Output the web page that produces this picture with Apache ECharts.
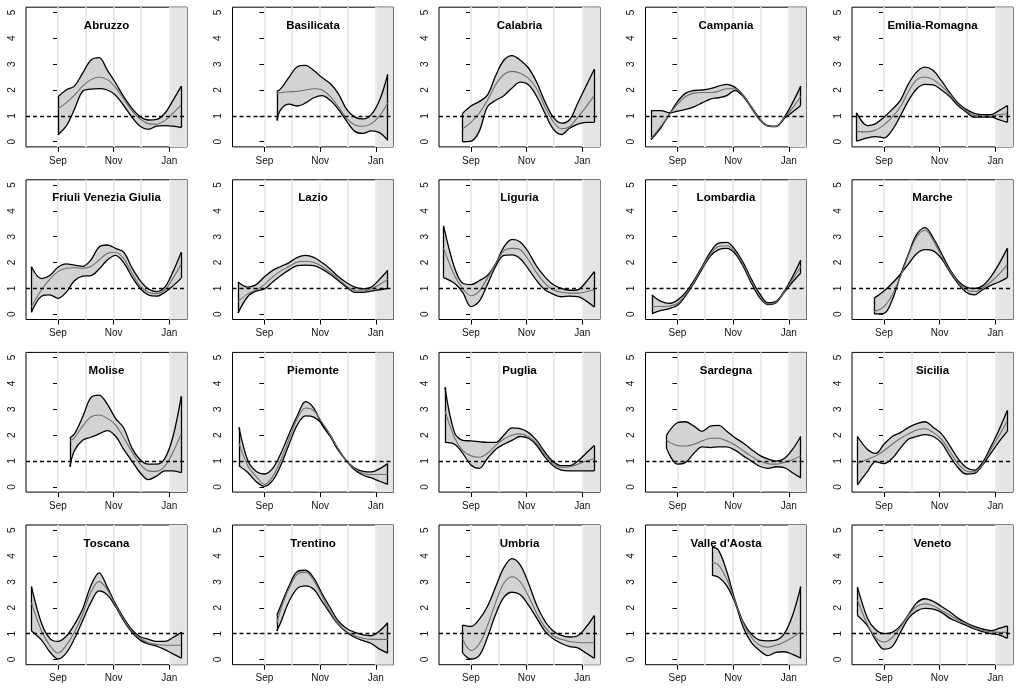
<!DOCTYPE html>
<html>
<head>
<meta charset="utf-8">
<script src="https://cdn.jsdelivr.net/npm/echarts@6/dist/echarts.min.js"></script>
<style>
  html, body { margin: 0; padding: 0; background: #fff; }
  #chart { width: 1021px; height: 692px; }
</style>
</head>
<body>
<div id="chart"></div>
<script>
// days counted from 1 September (Oct 1 = 30, Nov 1 = 61, Dec 1 = 91, Jan 1 = 122)
const DAYS = [-18, -9, 0, 9, 18, 27, 36, 45, 54, 63, 72, 81, 90, 99, 108, 117, 126, 135];
const MONTH_LINES = [0, 30, 61, 91, 122];
const MONTH_TICKS = [0, 61, 122];
const MONTH_LABELS = ["Sep", "Nov", "Jan"];
const Y_TICKS = [0, 1, 2, 3, 4, 5];
const SHADE_FROM = 122;
const THRESHOLD = 1;

const REGIONS = [
  "Abruzzo", "Basilicata", "Calabria", "Campania", "Emilia-Romagna",
  "Friuli Venezia Giulia", "Lazio", "Liguria", "Lombardia", "Marche",
  "Molise", "Piemonte", "Puglia", "Sardegna", "Sicilia",
  "Toscana", "Trentino", "Umbria", "Valle d'Aosta", "Veneto"
];
// first day of each band; the following values sit on DAYS
const START_DAY = [0, 13.5, -9, -29, -30, -29, -29, -30, -28, -11, 13, -28, -28.5, -12, -29, -29, 13.5, -9, 38, -29];

// band edges (hi / lo) and central estimate (mid)
const ABRUZZO_HI = [1.74, 2.0, 2.15, 2.65, 3.15, 3.25, 2.77, 2.28, 1.74, 1.29, 0.97, 0.84, 0.86, 1.1, 1.6, 2.15];
const ABRUZZO_MID = [1.27, 1.5, 1.8, 2.15, 2.4, 2.5, 2.4, 2.1, 1.65, 1.2, 0.88, 0.7, 0.68, 0.82, 1.1, 1.42];
const ABRUZZO_LO = [0.27, 0.6, 1.25, 1.95, 2.03, 2.05, 2.0, 1.8, 1.4, 0.95, 0.6, 0.48, 0.6, 0.62, 0.6, 0.55];

const BASILICATA_HI = [1.95, 2.05, 2.5, 2.9, 2.95, 2.75, 2.48, 2.25, 1.85, 1.25, 0.95, 0.88, 1.05, 1.6, 2.6];
const BASILICATA_MID = [1.88, 1.9, 1.93, 1.95, 2.0, 2.05, 2.0, 1.75, 1.35, 0.9, 0.65, 0.6, 0.7, 1.0, 1.5];
const BASILICATA_LO = [0.82, 1.25, 1.45, 1.38, 1.5, 1.7, 1.78, 1.6, 1.25, 0.8, 0.4, 0.32, 0.42, 0.35, 0.05];

const CALABRIA_HI = [1.1, 1.38, 1.55, 1.8, 2.55, 3.15, 3.33, 3.15, 2.85, 2.3, 1.55, 0.95, 0.72, 0.85, 1.5, 2.15, 2.8];
const CALABRIA_MID = [0.5, 0.75, 1.1, 1.6, 2.2, 2.6, 2.72, 2.65, 2.45, 2.05, 1.35, 0.78, 0.5, 0.58, 0.95, 1.35, 1.78];
const CALABRIA_LO = [0.0, 0.02, 0.4, 1.35, 1.6, 1.78, 2.08, 2.3, 2.2, 1.75, 1.1, 0.5, 0.28, 0.52, 0.68, 0.75, 0.75];

const CAMPANIA_HI = [1.2, 1.2, 1.12, 1.18, 1.25, 1.35, 1.5, 1.65, 1.7, 1.78, 1.98, 1.75, 1.3, 0.85, 0.6, 0.58, 0.9, 1.15, 1.4];
const CAMPANIA_MID = [0.12, 0.6, 1.05, 1.45, 1.75, 1.88, 1.9, 1.9, 1.95, 2.05, 2.05, 1.78, 1.32, 0.88, 0.61, 0.59, 0.92, 1.3, 1.75];
const CAMPANIA_LO = [0.08, 0.55, 1.05, 1.55, 1.88, 1.98, 2.0, 2.05, 2.15, 2.22, 2.1, 1.8, 1.35, 0.9, 0.62, 0.6, 0.95, 1.5, 2.15];

const EMILIA_HI = [1.12, 0.62, 0.7, 0.95, 1.25, 1.6, 2.25, 2.7, 2.88, 2.75, 2.35, 1.9, 1.5, 1.25, 1.1, 1.05, 1.05, 1.2, 1.4];
const EMILIA_MID = [0.4, 0.38, 0.45, 0.65, 0.95, 1.35, 1.95, 2.4, 2.5, 2.4, 2.15, 1.85, 1.45, 1.2, 1.02, 1.0, 1.0, 1.05, 1.08];
const EMILIA_LO = [0.02, 0.15, 0.2, 0.15, 0.45, 1.0, 1.6, 2.05, 2.22, 2.2, 2.0, 1.75, 1.4, 1.15, 0.95, 0.95, 0.95, 0.85, 0.75];

const FRIULI_HI = [1.84, 1.38, 1.5, 1.82, 1.95, 1.9, 1.85, 2.1, 2.6, 2.68, 2.55, 2.4, 1.8, 1.3, 0.98, 0.88, 1.05, 1.65, 2.4];
const FRIULI_MID = [0.3, 0.95, 1.35, 1.65, 1.78, 1.8, 1.78, 1.85, 2.1, 2.35, 2.4, 2.15, 1.6, 1.1, 0.85, 0.8, 0.95, 1.4, 1.95];
const FRIULI_LO = [0.08, 0.7, 0.75, 0.62, 0.85, 1.3, 1.48, 1.5, 1.75, 2.1, 2.28, 2.0, 1.45, 1.0, 0.75, 0.7, 0.85, 1.1, 1.4];

const LAZIO_HI = [1.25, 1.05, 1.15, 1.45, 1.7, 1.85, 2.0, 2.2, 2.28, 2.2, 2.0, 1.75, 1.45, 1.22, 1.05, 0.98, 1.05, 1.35, 1.7];
const LAZIO_MID = [0.5, 0.8, 0.95, 1.15, 1.45, 1.68, 1.85, 2.02, 2.05, 2.0, 1.85, 1.62, 1.35, 1.1, 0.92, 0.9, 0.98, 1.15, 1.35];
const LAZIO_LO = [0.05, 0.7, 0.9, 0.98, 1.25, 1.5, 1.72, 1.88, 1.9, 1.88, 1.75, 1.55, 1.3, 1.05, 0.85, 0.85, 0.9, 0.95, 1.0];

const LIGURIA_HI = [3.42, 1.8, 1.2, 1.15, 1.3, 1.5, 1.95, 2.6, 2.9, 2.8, 2.4, 1.85, 1.45, 1.15, 1.0, 0.93, 0.95, 1.25, 1.65];
const LIGURIA_MID = [2.55, 1.5, 1.0, 0.72, 0.9, 1.4, 1.95, 2.45, 2.55, 2.5, 2.1, 1.6, 1.2, 0.95, 0.85, 0.82, 0.82, 0.87, 0.95];
const LIGURIA_LO = [1.42, 1.2, 0.85, 0.3, 0.5, 1.15, 1.85, 2.28, 2.3, 2.15, 1.75, 1.3, 0.95, 0.78, 0.68, 0.7, 0.68, 0.52, 0.28];

const LOMBARDIA_HI = [0.75, 0.5, 0.42, 0.55, 0.85, 1.3, 1.85, 2.4, 2.75, 2.78, 2.5, 2.0, 1.35, 0.8, 0.45, 0.5, 0.9, 1.45, 2.1];
const LOMBARDIA_MID = [0.3, 0.3, 0.32, 0.42, 0.78, 1.25, 1.8, 2.32, 2.62, 2.65, 2.42, 1.92, 1.28, 0.72, 0.4, 0.47, 0.87, 1.35, 1.85];
const LOMBARDIA_LO = [0.03, 0.15, 0.22, 0.35, 0.72, 1.2, 1.75, 2.25, 2.5, 2.55, 2.35, 1.85, 1.2, 0.65, 0.38, 0.45, 0.85, 1.25, 1.6];

const MARCHE_HI = [0.02, 0.04, 0.55, 1.5, 2.35, 3.1, 3.35, 2.95, 2.35, 1.75, 1.3, 1.05, 1.0, 1.1, 1.45, 1.95, 2.55];
const MARCHE_MID = [0.1, 0.3, 0.75, 1.45, 2.3, 3.0, 3.25, 2.85, 2.25, 1.7, 1.25, 0.95, 0.88, 1.02, 1.25, 1.55, 1.92];
const MARCHE_LO = [0.62, 0.9, 1.2, 1.55, 1.95, 2.35, 2.5, 2.45, 2.15, 1.65, 1.2, 0.85, 0.75, 0.95, 1.12, 1.25, 1.42];

const MOLISE_HI = [1.9, 2.05, 2.7, 3.45, 3.55, 3.2, 2.65, 2.28, 1.5, 1.05, 0.88, 0.88, 1.1, 1.95, 3.5];
const MOLISE_MID = [1.78, 1.9, 2.35, 2.7, 2.78, 2.65, 2.4, 1.9, 1.35, 0.88, 0.62, 0.6, 0.8, 1.35, 2.05];
const MOLISE_LO = [0.78, 1.4, 1.8, 1.92, 2.05, 2.18, 1.97, 1.45, 1.0, 0.55, 0.28, 0.42, 0.62, 0.62, 0.55];

const PIEMONTE_HI = [2.3, 1.0, 0.6, 0.5, 0.72, 1.3, 2.05, 2.75, 3.3, 3.05, 2.4, 1.95, 1.4, 1.0, 0.72, 0.6, 0.58, 0.7, 0.9];
const PIEMONTE_MID = [1.7, 0.8, 0.4, 0.1, 0.4, 1.05, 1.85, 2.65, 3.05, 2.95, 2.5, 2.0, 1.45, 1.0, 0.7, 0.52, 0.48, 0.48, 0.48];
const PIEMONTE_LO = [0.82, 0.55, 0.2, 0.02, 0.25, 0.85, 1.65, 2.4, 2.75, 2.7, 2.45, 2.0, 1.45, 1.0, 0.65, 0.45, 0.35, 0.22, 0.1];

const PUGLIA_HI = [3.85, 2.1, 1.8, 1.78, 1.75, 1.72, 1.72, 2.0, 2.28, 2.25, 2.1, 1.8, 1.35, 0.98, 0.82, 0.82, 1.0, 1.3, 1.6];
const PUGLIA_MID = [2.95, 1.9, 1.4, 1.2, 1.15, 1.3, 1.6, 1.85, 2.0, 2.05, 1.95, 1.68, 1.25, 0.92, 0.76, 0.78, 0.88, 1.0, 1.1];
const PUGLIA_LO = [1.72, 1.65, 1.3, 0.85, 0.72, 1.1, 1.45, 1.65, 1.8, 1.95, 1.88, 1.6, 1.15, 0.82, 0.65, 0.62, 0.62, 0.62, 0.62];

const SARDEGNA_HI = [2.0, 2.48, 2.52, 2.35, 2.15, 2.35, 2.38, 2.15, 1.9, 1.7, 1.45, 1.22, 1.08, 1.0, 1.1, 1.45, 1.95];
const SARDEGNA_MID = [1.8, 1.6, 1.58, 1.65, 1.78, 1.88, 1.88, 1.78, 1.62, 1.4, 1.18, 1.0, 0.9, 0.88, 0.95, 1.05, 1.2];
const SARDEGNA_LO = [1.5, 0.88, 0.95, 1.3, 1.55, 1.52, 1.55, 1.55, 1.42, 1.2, 1.0, 0.8, 0.72, 0.78, 0.75, 0.55, 0.35];

const SICILIA_HI = [1.95, 1.45, 1.3, 1.65, 1.95, 2.1, 2.3, 2.45, 2.52, 2.3, 2.05, 1.6, 1.1, 0.75, 0.65, 0.95, 1.55, 2.2, 2.95];
const SICILIA_MID = [0.9, 1.07, 1.2, 1.4, 1.65, 1.88, 2.05, 2.2, 2.25, 2.1, 1.85, 1.38, 0.9, 0.62, 0.58, 0.88, 1.45, 1.98, 2.55];
const SICILIA_LO = [0.08, 0.6, 0.98, 0.9, 1.1, 1.5, 1.85, 1.95, 2.02, 1.95, 1.7, 1.2, 0.75, 0.5, 0.52, 0.85, 1.3, 1.75, 2.15];

const TOSCANA_HI = [2.82, 1.4, 0.82, 0.7, 0.9, 1.35, 1.95, 2.85, 3.35, 2.8, 2.15, 1.6, 1.15, 0.88, 0.78, 0.7, 0.7, 0.85, 1.05];
const TOSCANA_MID = [2.2, 1.1, 0.55, 0.25, 0.55, 1.05, 1.75, 2.6, 3.02, 2.7, 2.1, 1.55, 1.1, 0.82, 0.65, 0.58, 0.55, 0.55, 0.55];
const TOSCANA_LO = [1.1, 0.75, 0.3, 0.02, 0.25, 0.8, 1.5, 2.2, 2.65, 2.5, 2.05, 1.5, 1.05, 0.75, 0.6, 0.52, 0.38, 0.22, 0.05];

const TRENTINO_HI = [1.7, 2.1, 2.85, 3.4, 3.45, 3.15, 2.55, 2.0, 1.48, 1.2, 1.05, 0.95, 0.92, 1.1, 1.42];
const TRENTINO_MID = [1.4, 1.95, 2.75, 3.3, 3.38, 3.05, 2.45, 1.85, 1.38, 1.08, 0.92, 0.82, 0.78, 0.78, 0.78];
const TRENTINO_LO = [1.1, 1.45, 2.25, 2.75, 2.85, 2.72, 2.25, 1.78, 1.35, 1.05, 0.85, 0.73, 0.62, 0.4, 0.25];

const UMBRIA_HI = [1.33, 1.28, 1.55, 2.05, 2.8, 3.55, 3.9, 3.65, 2.95, 2.1, 1.48, 1.1, 0.93, 0.87, 0.92, 1.25, 1.7];
const UMBRIA_MID = [0.78, 0.35, 0.6, 1.3, 2.2, 2.95, 3.2, 3.0, 2.45, 1.78, 1.25, 0.92, 0.78, 0.7, 0.66, 0.65, 0.65];
const UMBRIA_LO = [0.25, 0.02, 0.15, 0.85, 1.75, 2.4, 2.6, 2.5, 2.1, 1.6, 1.1, 0.8, 0.62, 0.5, 0.45, 0.25, 0.05];

const VALLE_HI = [4.35, 4.22, 3.4, 2.3, 1.45, 0.98, 0.75, 0.72, 0.75, 1.0, 1.7, 2.82];
const VALLE_MID = [3.75, 3.65, 3.1, 2.25, 1.4, 0.85, 0.55, 0.48, 0.55, 0.68, 0.85, 1.08];
const VALLE_LO = [3.25, 3.18, 2.85, 2.2, 1.25, 0.65, 0.35, 0.15, 0.28, 0.3, 0.2, 0.05];

const VENETO_HI = [2.8, 1.6, 1.15, 1.0, 1.05, 1.3, 1.75, 2.2, 2.35, 2.25, 2.05, 1.85, 1.6, 1.42, 1.28, 1.18, 1.12, 1.2, 1.3];
const VENETO_MID = [2.3, 1.35, 0.85, 0.68, 0.85, 1.25, 1.72, 2.05, 2.15, 2.08, 1.9, 1.72, 1.52, 1.38, 1.22, 1.12, 1.08, 1.05, 1.05];
const VENETO_LO = [1.7, 1.3, 0.75, 0.4, 0.5, 1.05, 1.6, 1.88, 1.98, 1.95, 1.82, 1.6, 1.45, 1.32, 1.18, 1.08, 1.0, 0.95, 0.82];

const HI = [ABRUZZO_HI, BASILICATA_HI, CALABRIA_HI, CAMPANIA_HI, EMILIA_HI, FRIULI_HI, LAZIO_HI, LIGURIA_HI, LOMBARDIA_HI, MARCHE_HI,
  MOLISE_HI, PIEMONTE_HI, PUGLIA_HI, SARDEGNA_HI, SICILIA_HI, TOSCANA_HI, TRENTINO_HI, UMBRIA_HI, VALLE_HI, VENETO_HI];
const MID = [ABRUZZO_MID, BASILICATA_MID, CALABRIA_MID, CAMPANIA_MID, EMILIA_MID, FRIULI_MID, LAZIO_MID, LIGURIA_MID, LOMBARDIA_MID, MARCHE_MID,
  MOLISE_MID, PIEMONTE_MID, PUGLIA_MID, SARDEGNA_MID, SICILIA_MID, TOSCANA_MID, TRENTINO_MID, UMBRIA_MID, VALLE_MID, VENETO_MID];
const LO = [ABRUZZO_LO, BASILICATA_LO, CALABRIA_LO, CAMPANIA_LO, EMILIA_LO, FRIULI_LO, LAZIO_LO, LIGURIA_LO, LOMBARDIA_LO, MARCHE_LO,
  MOLISE_LO, PIEMONTE_LO, PUGLIA_LO, SARDEGNA_LO, SICILIA_LO, TOSCANA_LO, TRENTINO_LO, UMBRIA_LO, VALLE_LO, VENETO_LO];

// series sit on a hidden time axis (so the band stacks on y);
// a value axis in days on the same grid carries the month ticks
const DAY_MS = 86400000;
const SEP_1 = Date.UTC(2020, 8, 1);
const t = d => SEP_1 + d * DAY_MS;

const D_MIN = -35, D_MAX = 141.3;
const BOX_W = 161, BOX_H = 139.7;
const FONT = "'Liberation Sans', Arial, Helvetica, sans-serif";

function xsFor(start, n) {
  return [start].concat(DAYS.filter(d => d > start + 3)).slice(0, n);
}

const grids = [], xAxes = [], yAxes = [], series = [], titles = [];

REGIONS.forEach((name, i) => {
  const col = i % 5, row = Math.floor(i / 5);
  const left = 26 + 206.5 * col;
  const top = 7.2 + 172.6 * row;
  const xi = 2 * i;
  grids.push({
    left: left, top: top, width: BOX_W, height: BOX_H,
    show: true, borderColor: "#000", borderWidth: 1, backgroundColor: "transparent"
  });
  xAxes.push({
    gridIndex: i, type: "time", min: t(D_MIN), max: t(D_MAX), show: false, position: "bottom"
  });
  xAxes.push({
    gridIndex: i, type: "value", min: D_MIN, max: D_MAX, position: "bottom",
    axisLine: { show: false }, splitLine: { show: false },
    axisTick: { show: true, customValues: MONTH_TICKS, length: 5, lineStyle: { color: "#000" } },
    axisLabel: {
      customValues: MONTH_TICKS, margin: 9, fontSize: 10, color: "#111", fontFamily: FONT,
      formatter: v => MONTH_LABELS[MONTH_TICKS.indexOf(v)] || ""
    }
  });
  yAxes.push({
    gridIndex: i, type: "value", min: -0.2, max: 5.2,
    axisLine: { show: false }, splitLine: { show: false },
    axisTick: { show: true, customValues: Y_TICKS, length: 5, lineStyle: { color: "#000" } },
    axisLabel: { customValues: Y_TICKS, rotate: 90, margin: 9, fontSize: 10, color: "#111", fontFamily: FONT }
  });

  const hi = HI[i], mid = MID[i], lo = LO[i];
  const xs = xsFor(START_DAY[i], lo.length).map(t);
  const n = xs.length;
  const loData = xs.map((x, k) => [x, lo[k]]);
  const diffData = xs.map((x, k) => [x, +(hi[k] - lo[k]).toFixed(3)]);
  const midData = xs.map((x, k) => [x, mid[k]]);

  // background: month lines and the shaded last weeks (kept under the band)
  series.push({
    type: "line", xAxisIndex: xi, yAxisIndex: i, data: loData, silent: true, z: 1,
    symbol: "none", lineStyle: { opacity: 0 },
    markArea: {
      silent: true, z: 0, itemStyle: { color: "#e5e5e5" },
      data: [[{ xAxis: t(SHADE_FROM) }, { xAxis: t(D_MAX) }]]
    },
    markLine: {
      silent: true, z: 1, symbol: ["none", "none"], label: { show: false },
      lineStyle: { color: "#ebebeb", width: 2, type: "solid" },
      data: MONTH_LINES.map(v => ({ xAxis: t(v) }))
    }
  });
  // lower edge of the band
  series.push({
    type: "line", xAxisIndex: xi, yAxisIndex: i, data: loData, stack: "band" + i, stackStrategy: "all",
    smooth: 0.35, symbol: "none", silent: true, z: 3,
    lineStyle: { color: "#000", width: 1.3 },
    markLine: {
      silent: true, z: 3, symbol: ["none", "none"], label: { show: false },
      lineStyle: { color: "#000", width: 1.3, type: "solid" },
      data: [
        [{ coord: [xs[0], lo[0]] }, { coord: [xs[0], hi[0]] }],
        [{ coord: [xs[n - 1], lo[n - 1]] }, { coord: [xs[n - 1], hi[n - 1]] }]
      ]
    }
  });
  // filled band up to the other edge
  series.push({
    type: "line", xAxisIndex: xi, yAxisIndex: i, data: diffData, stack: "band" + i, stackStrategy: "all",
    smooth: 0.35, symbol: "none", silent: true, z: 2,
    lineStyle: { color: "#000", width: 1.3 },
    areaStyle: { color: "#d3d3d3", opacity: 1 }
  });
  // central estimate + threshold
  series.push({
    type: "line", xAxisIndex: xi, yAxisIndex: i, data: midData,
    smooth: 0.35, symbol: "none", silent: true, z: 4,
    lineStyle: { color: "#6e6e6e", width: 1.1 },
    markLine: {
      silent: true, z: 5, symbol: ["none", "none"], label: { show: false },
      lineStyle: { color: "#000", width: 1.3, type: [4, 3] },
      data: [{ yAxis: THRESHOLD }]
    }
  });

  titles.push({
    type: "text", x: left + BOX_W / 2, y: top + 18.5, z: 10,
    style: {
      text: name, fill: "#000", fontSize: 11.5, fontWeight: "bold", fontFamily: FONT,
      textAlign: "center", textVerticalAlign: "middle"
    }
  });
});

const chart = echarts.init(document.getElementById("chart"), null, { renderer: "canvas" });
chart.setOption({
  animation: false,
  backgroundColor: "#fff",
  grid: grids,
  xAxis: xAxes,
  yAxis: yAxes,
  series: series,
  graphic: { elements: titles }
});
window.addEventListener("resize", () => chart.resize());
</script>
</body>
</html>
